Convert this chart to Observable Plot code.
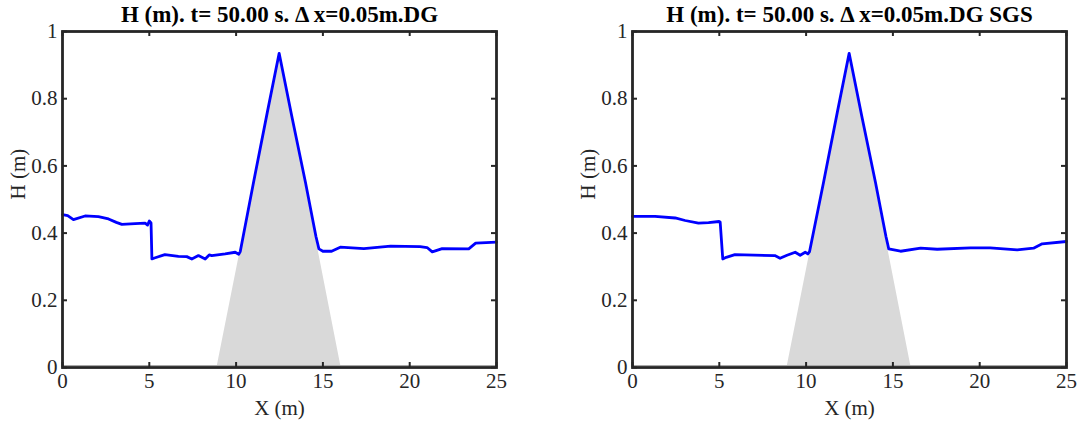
<!DOCTYPE html>
<html>
<head>
<meta charset="utf-8">
<script src="https://cdn.jsdelivr.net/npm/d3@7"></script>
<script src="https://cdn.jsdelivr.net/npm/@observablehq/plot@0.6"></script>
<style>
  html, body { margin: 0; padding: 0; background: #fff; }
  #wrap { display: flex; width: 1079px; height: 423px; }
  #wrap svg { display: block; }
</style>
</head>
<body>
<div id="wrap"></div>
<script>
const titles = ["H (m). t= 50.00 s. \u0394 x=0.05m.DG", "H (m). t= 50.00 s. \u0394 x=0.05m.DG SGS"];
const xLabel = "X (m)";
const yLabel = "H (m)";
const xTicks = [0, 5, 10, 15, 20, 25];
const yTicks = [0, 0.2, 0.4, 0.6, 0.8, 1];
const yTickLabels = ["0", "0.2", "0.4", "0.6", "0.8", "1"];

// bed (triangular hump)
const bedX = [0, 8.9, 12.5, 16.05, 25];
const bedH = [0, 0, 0.935, 0, 0];

// left panel: DG
const xLeft = [0, 0.3, 0.63, 1.3, 2.07, 2.65, 3.1, 3.42, 4.18, 4.76, 4.9, 5.0, 5.1, 5.15, 5.3, 5.9, 6.68, 7.16, 7.45, 7.83, 8.22, 8.45, 8.6, 9.37, 9.95, 10.15, 10.24, 11.0, 11.8, 12.48, 13.2, 14.0, 14.6, 14.77, 15.0, 15.5, 16.0, 17.36, 18.9, 20.6, 21.0, 21.3, 21.87, 23.4, 23.8, 25];
const hLeft = [0.455, 0.452, 0.440, 0.451, 0.449, 0.442, 0.432, 0.426, 0.428, 0.4295, 0.424, 0.436, 0.43, 0.323, 0.326, 0.336, 0.331, 0.330, 0.323, 0.333, 0.323, 0.335, 0.333, 0.338, 0.343, 0.337, 0.345, 0.55, 0.76, 0.935, 0.75, 0.55, 0.39, 0.353, 0.346, 0.346, 0.358, 0.354, 0.361, 0.360, 0.357, 0.344, 0.354, 0.353, 0.370, 0.373];

// right panel: DG SGS
const xRight = [0, 1.3, 2.46, 3.03, 3.8, 4.38, 4.99, 5.05, 5.2, 5.4, 5.9, 8.2, 8.5, 8.9, 9.37, 9.66, 9.95, 10.1, 10.2, 11.0, 11.8, 12.48, 13.2, 14.0, 14.6, 14.76, 15.44, 16.6, 17.55, 19.47, 20.6, 22.16, 23.1, 23.6, 25];
const hRight = [0.450, 0.450, 0.445, 0.4375, 0.4295, 0.431, 0.4345, 0.433, 0.323, 0.328, 0.336, 0.333, 0.325, 0.334, 0.343, 0.334, 0.343, 0.338, 0.345, 0.55, 0.76, 0.935, 0.75, 0.55, 0.39, 0.353, 0.346, 0.355, 0.352, 0.356, 0.356, 0.350, 0.355, 0.368, 0.375];

const bed = bedX.map((x, i) => ({x, h: bedH[i]}));
const series = [
  xLeft.map((x, i) => ({x, h: hLeft[i]})),
  xRight.map((x, i) => ({x, h: hRight[i]}))
];

const ink = "#262626";
const font = "'Liberation Serif', 'Times New Roman', serif";
const layouts = [
  {width: 540, marginLeft: 62, marginRight: 44},
  {width: 539, marginLeft: 92, marginRight: 13}
];
const H = 423, mt = 31, mb = 56;

layouts.forEach((lay, k) => {
  const fw = lay.width - lay.marginLeft - lay.marginRight;
  const fh = H - mt - mb;
  const tl = 5;
  const chart = Plot.plot({
    width: lay.width,
    height: H,
    marginLeft: lay.marginLeft,
    marginRight: lay.marginRight,
    marginTop: mt,
    marginBottom: mb,
    style: {fontFamily: font, fontSize: "21px", color: ink, background: "#fff"},
    x: {domain: [0, 25], ticks: xTicks, label: null},
    y: {domain: [0, 1], ticks: yTicks, label: null},
    marks: [
      Plot.areaY(bed, {x: "x", y: "h", fill: "#d9d9d9"}),
      Plot.ruleY([0], {stroke: "#a8a8a8", strokeWidth: 1, dy: -2}),
      Plot.line(series[k], {x: "x", y: "h", stroke: "#0000ff", strokeWidth: 2.8, strokeLinejoin: "round", strokeLinecap: "round"}),
      // inward ticks on all four sides
      Plot.tickX(xTicks, {x: d => d, stroke: ink, strokeWidth: 2, insetTop: fh - tl}),
      Plot.tickX(xTicks, {x: d => d, stroke: ink, strokeWidth: 2, insetBottom: fh - tl}),
      Plot.tickY(yTicks, {y: d => d, stroke: ink, strokeWidth: 2, insetRight: fw - tl}),
      Plot.tickY(yTicks, {y: d => d, stroke: ink, strokeWidth: 2, insetLeft: fw - tl}),
      Plot.frame({stroke: ink, strokeWidth: 2.8}),
      Plot.axisX({ticks: xTicks, tickSize: 0, tickPadding: 6, fontSize: 21, fill: ink, label: null}),
      Plot.axisY({ticks: yTicks, tickSize: 0, tickPadding: 5, fontSize: 21, fill: ink, label: null,
                  tickFormat: d => yTickLabels[yTicks.indexOf(d)]}),
      Plot.text([xLabel], {text: d => d, frameAnchor: "bottom", lineAnchor: "middle", dy: 41, fontSize: 21, fill: ink}),
      Plot.text([yLabel], {text: d => d, frameAnchor: "left", dx: -44, rotate: -90, fontSize: 21, fill: ink}),
      Plot.text([titles[k]], {text: d => d, frameAnchor: "top", lineAnchor: "middle", dy: -17, fontSize: 23, fontWeight: "bold", fill: "#000"})
    ]
  });
  document.getElementById("wrap").appendChild(chart);
});
</script>
</body>
</html>
